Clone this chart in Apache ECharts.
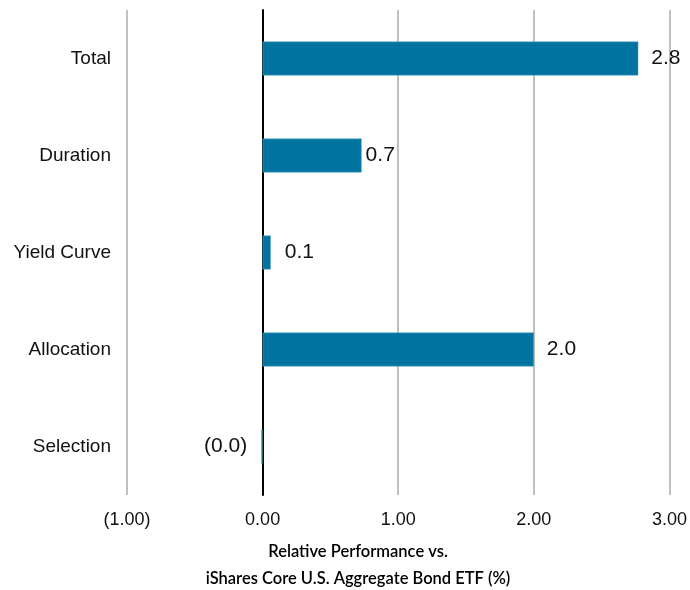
<!DOCTYPE html>
<html>
<head>
<meta charset="utf-8">
<script src="https://cdn.jsdelivr.net/npm/echarts@6/dist/echarts.min.js"></script>
<style>
  html, body { margin: 0; padding: 0; background: #fff; }
  #chart { width: 690px; height: 590px; }
</style>
</head>
<body>
<div id="chart"></div>
<script>
// Attribution categories, top to bottom
const categories = ['Total', 'Duration', 'Yield Curve', 'Allocation', 'Selection'];
// Relative performance contribution (%)
const performance = [2.77, 0.73, 0.06, 2.0, -0.01];
// Value-axis ticks
const axisMin = -1;
const axisMax = 3;
const axisStep = 1;

const labelGap = [13, 4, 14, 13, 14];
const FONT = '"Liberation Sans", Arial, sans-serif';

function fmtTick(v) {
  return v < 0 ? '(' + Math.abs(v).toFixed(2) + ')' : v.toFixed(2);
}
function fmtValue(v) {
  return v < 0 ? '(' + Math.abs(v).toFixed(1) + ')' : v.toFixed(1);
}

const chart = echarts.init(document.getElementById('chart'));
chart.setOption({
  animation: false,
  textStyle: { fontFamily: FONT },
  title: {
    text: 'Relative Performance vs.\niShares Core U.S. Aggregate Bond ETF (%)',
    left: 353,
    top: 533,
    textAlign: 'center',
    textStyle: {
      fontFamily: 'Lato, sans-serif',
      fontSize: 16.5,
      fontWeight: 600,
      color: '#000',
      lineHeight: 27
    }
  },
  grid: { left: 127, right: 20, top: 10, bottom: 95, containLabel: false },
  xAxis: {
    type: 'value',
    min: axisMin,
    max: axisMax,
    interval: axisStep,
    axisLine: { show: false },
    axisTick: { show: false },
    axisLabel: {
      formatter: fmtTick,
      fontFamily: FONT,
      fontSize: 18,
      color: '#111',
      margin: 16
    },
    splitLine: { show: true, lineStyle: { color: '#c0c0c0', width: 2 } }
  },
  yAxis: {
    type: 'category',
    data: categories,
    inverse: true,
    axisLine: { show: true, onZero: true, lineStyle: { color: '#000', width: 2 } },
    axisTick: { show: false },
    axisLabel: {
      fontFamily: FONT,
      fontSize: 19,
      color: '#111',
      margin: 16
    }
  },
  series: [{
    type: 'bar',
    barWidth: 34,
    data: performance.map((v, i) => ({
      value: v,
      label: { distance: labelGap[i], position: v < 0 ? 'left' : 'right' }
    })),
    itemStyle: { color: '#0073a0', borderColor: '#5aa9c8', borderWidth: 0.5 },
    label: {
      show: true,
      position: 'right',
      fontFamily: FONT,
      fontSize: 21,
      color: '#111',
      formatter: p => fmtValue(p.value)
    }
  }]
});
</script>
</body>
</html>
